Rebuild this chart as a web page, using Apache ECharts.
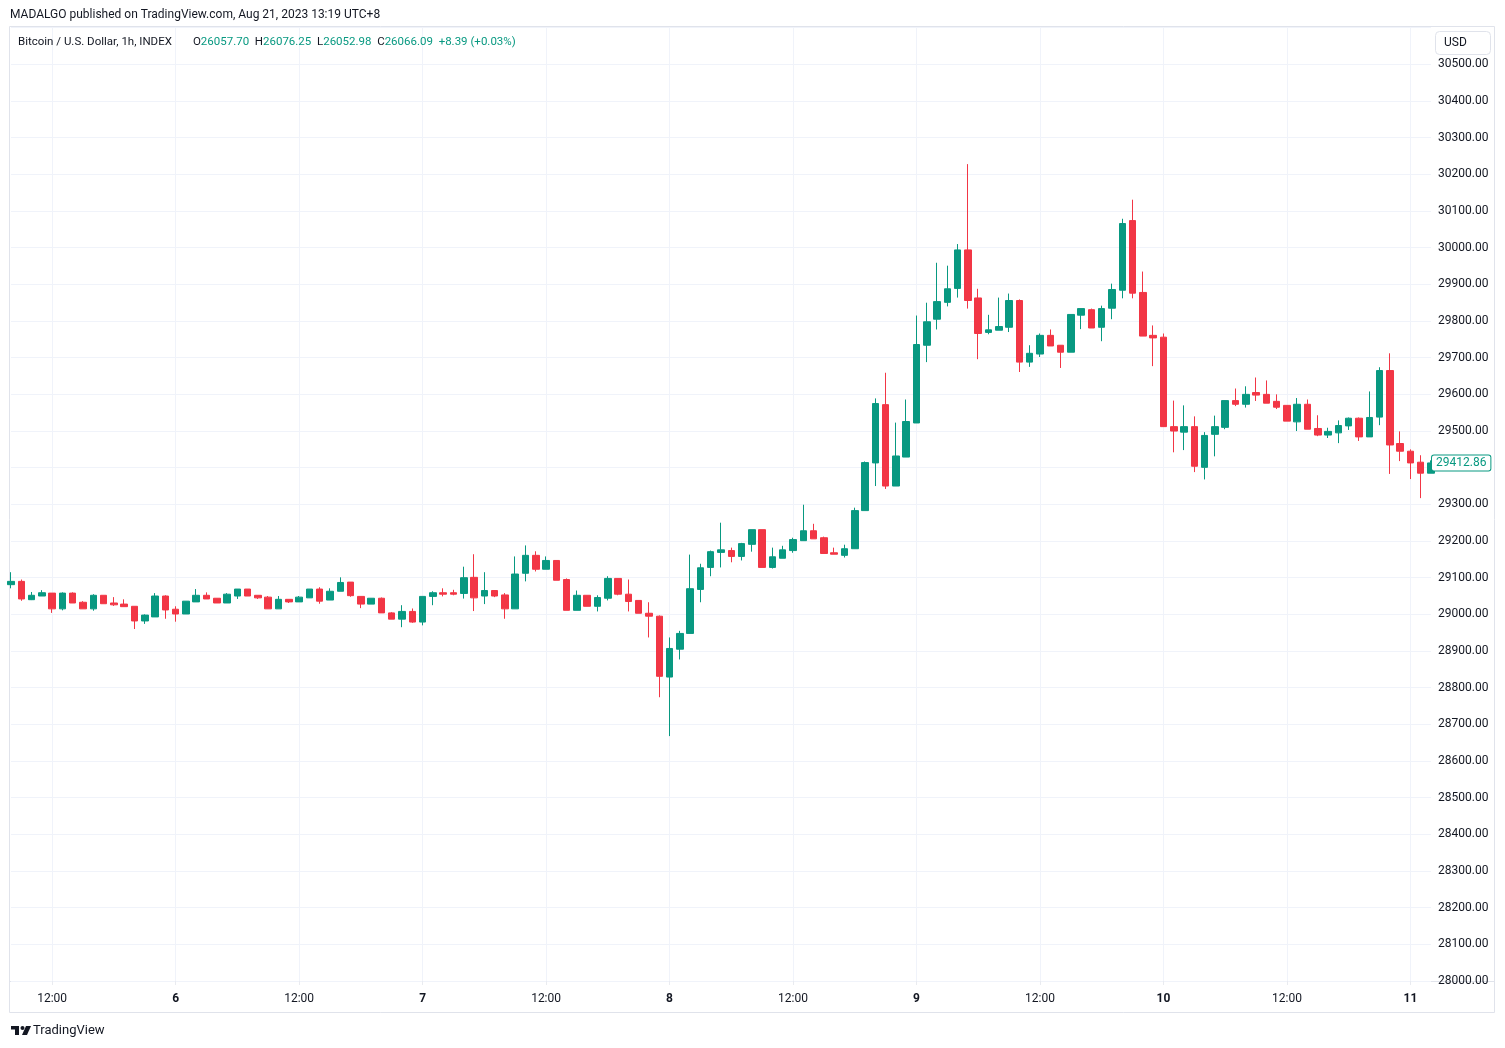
<!DOCTYPE html>
<html>
<head>
<meta charset="utf-8">
<title>Bitcoin / U.S. Dollar, 1h</title>
<script src="https://cdn.jsdelivr.net/npm/echarts@6/dist/echarts.min.js"></script>
<style>
  html, body { margin: 0; padding: 0; background: #ffffff; }
  #chart { width: 1505px; height: 1048px; }
</style>
</head>
<body>
<div id="chart"></div>
<script>
// hourly candles, each one [open, close, low, high]
// Aug 5, 08:00 - 23:00
const aug05 = [
  [29081, 29090, 29071, 29115], [29090, 29042, 29037, 29095], [29040, 29052, 29039, 29061], [29050, 29059, 29050, 29066],
  [29058, 29015, 29004, 29058], [29015, 29058, 29011, 29060], [29058, 29031, 29031, 29060], [29033, 29015, 29015, 29036],
  [29015, 29052, 29010, 29055], [29052, 29029, 29029, 29052], [29031, 29026, 29023, 29047], [29028, 29021, 29021, 29041],
  [29022, 28982, 28960, 29022], [28982, 28998, 28974, 29000], [28993, 29050, 28993, 29058], [29050, 29012, 28988, 29052]
];
const aug06 = [
  [29014, 29001, 28980, 29022], [29001, 29036, 29001, 29036], [29034, 29052, 29034, 29069], [29052, 29042, 29042, 29060],
  [29044, 29031, 29031, 29044], [29031, 29055, 29031, 29058], [29050, 29069, 29042, 29069], [29069, 29050, 29050, 29069],
  [29052, 29045, 29042, 29052], [29047, 29015, 29015, 29050], [29015, 29041, 29015, 29050], [29041, 29034, 29031, 29041],
  [29034, 29047, 29034, 29050], [29045, 29069, 29045, 29069], [29069, 29036, 29029, 29074], [29039, 29063, 29039, 29071],
  [29063, 29087, 29063, 29101], [29088, 29051, 29048, 29088], [29049, 29028, 29017, 29049], [29028, 29044, 29028, 29044],
  [29044, 29004, 29004, 29046], [29004, 28987, 28987, 29006], [28987, 29008, 28965, 29025], [29008, 28979, 28977, 29016]
];
const aug07 = [
  [28979, 29049, 28970, 29049], [29049, 29059, 29025, 29063], [29059, 29055, 29049, 29071], [29059, 29055, 29052, 29067],
  [29057, 29100, 29043, 29130], [29101, 29045, 29009, 29164], [29050, 29065, 29028, 29115], [29065, 29050, 29047, 29065],
  [29053, 29015, 28988, 29058], [29015, 29110, 29015, 29158], [29112, 29161, 29090, 29188], [29161, 29123, 29117, 29172],
  [29123, 29147, 29123, 29158], [29147, 29093, 29093, 29147], [29095, 29011, 29011, 29098], [29011, 29052, 29011, 29065],
  [29052, 29022, 29022, 29052], [29022, 29046, 29008, 29052], [29044, 29098, 29038, 29104], [29098, 29055, 29052, 29098],
  [29055, 29035, 29008, 29095], [29038, 29003, 29003, 29038], [29003, 28995, 28937, 29033], [28995, 28831, 28774, 28997]
];
const aug08 = [
  [28829, 28907, 28668, 28937], [28905, 28948, 28877, 28955], [28948, 29070, 28948, 29163], [29068, 29127, 29033, 29138],
  [29128, 29171, 29104, 29174], [29169, 29176, 29128, 29250], [29174, 29158, 29142, 29182], [29158, 29193, 29147, 29195],
  [29191, 29231, 29171, 29231], [29231, 29128, 29128, 29231], [29128, 29157, 29125, 29182], [29153, 29176, 29153, 29187],
  [29174, 29204, 29168, 29209], [29201, 29228, 29201, 29299], [29228, 29206, 29206, 29247], [29209, 29166, 29166, 29212],
  [29168, 29164, 29164, 29182], [29161, 29179, 29155, 29190], [29179, 29283, 29179, 29291], [29283, 29414, 29283, 29417],
  [29413, 29575, 29350, 29589], [29572, 29350, 29342, 29659], [29350, 29432, 29350, 29523], [29429, 29526, 29429, 29586]
];
const aug09 = [
  [29522, 29736, 29522, 29815], [29734, 29798, 29688, 29850], [29805, 29853, 29777, 29959], [29851, 29888, 29840, 29951],
  [29889, 29994, 29864, 30010], [29994, 29856, 29834, 30228], [29863, 29766, 29696, 29888], [29769, 29776, 29764, 29817],
  [29775, 29785, 29775, 29864], [29783, 29856, 29770, 29875], [29856, 29688, 29661, 29859], [29688, 29712, 29675, 29734],
  [29710, 29761, 29702, 29766], [29761, 29732, 29732, 29777], [29734, 29715, 29672, 29734], [29715, 29818, 29715, 29818],
  [29816, 29834, 29778, 29834], [29831, 29781, 29781, 29834], [29783, 29834, 29745, 29842], [29835, 29886, 29805, 29902],
  [29884, 30066, 29862, 30079], [30074, 29876, 29862, 30131], [29878, 29759, 29759, 29935], [29761, 29754, 29677, 29788]
];
const aug10 = [
  [29756, 29512, 29512, 29766], [29512, 29500, 29442, 29583], [29497, 29512, 29448, 29570], [29512, 29404, 29388, 29540],
  [29401, 29488, 29368, 29497], [29491, 29512, 29431, 29542], [29510, 29583, 29505, 29583], [29583, 29573, 29568, 29616],
  [29573, 29600, 29564, 29622], [29605, 29598, 29582, 29646], [29600, 29576, 29576, 29638], [29581, 29565, 29560, 29600],
  [29570, 29527, 29527, 29570], [29525, 29573, 29500, 29590], [29573, 29505, 29505, 29586], [29507, 29489, 29486, 29543],
  [29489, 29499, 29481, 29509], [29495, 29515, 29467, 29529], [29514, 29535, 29503, 29537], [29535, 29484, 29473, 29537],
  [29484, 29537, 29484, 29608], [29538, 29665, 29516, 29674], [29665, 29462, 29383, 29712], [29466, 29445, 29418, 29499]
];
// Aug 11, 00:00 - 02:00
const aug11 = [
  [29445, 29413, 29369, 29450], [29415, 29385, 29317, 29434], [29385, 29413, 29385, 29420]
];

const lastPrice = 29412.86;
const headerValues = { o: '26057.70', h: '26076.25', l: '26052.98', c: '26066.09', chg: '+8.39 (+0.03%)' };

const yMin = 28000;
const yMax = 30602;
const yStep = 100;
const yTopLabel = 30500;

const candles = [].concat(aug05, aug06, aug07, aug08, aug09, aug10, aug11);

// one category per hour, starting Aug 5 08:00
const firstDay = 5, firstHour = 8;
const slots = candles.map((c, i) => {
  const h = firstHour + i;
  return { day: firstDay + Math.floor(h / 24), hour: h % 24 };
});
const categories = slots.map(s => '2023-08-' + String(s.day).padStart(2, '0') + ' ' + String(s.hour).padStart(2, '0') + ':00');
const isMark = (i) => slots[i].hour % 12 === 0;

const UP = '#089981';
const DOWN = '#F23645';
const TEXT = '#131722';
const FONT = 'Roboto, "Noto Sans", sans-serif';
const FS = 12;
const LEG = 11.5;

const chart = echarts.init(document.getElementById('chart'));

const option = {
  animation: false,
  backgroundColor: '#ffffff',
  textStyle: { fontFamily: FONT },
  title: [
    {
      text: 'MADALGO published on TradingView.com, Aug 21, 2023 13:19 UTC+8',
      left: 10,
      top: 9,
      padding: 0,
      textStyle: { fontSize: FS, fontWeight: 'normal', color: TEXT, fontFamily: FONT }
    },
    {
      text: '{n|Bitcoin / U.S. Dollar, 1h, INDEX}{g|}{n|O}{v|' + headerValues.o + '}  {n|H}{v|' + headerValues.h +
        '}  {n|L}{v|' + headerValues.l + '}  {n|C}{v|' + headerValues.c + '}  {v|' + headerValues.chg + '}',
      left: 18,
      top: 36,
      padding: 0,
      textStyle: {
        fontSize: LEG,
        fontWeight: 'normal',
        fontFamily: FONT,
        rich: {
          n: { color: TEXT, fontSize: LEG, fontWeight: 'normal', fontFamily: FONT },
          v: { color: UP, fontSize: LEG, fontWeight: 'normal', fontFamily: FONT },
          g: { width: 21 }
        }
      }
    }
  ],
  grid: {
    left: 11,
    right: 74,
    top: 27,
    bottom: 67,
    containLabel: false
  },
  xAxis: {
    type: 'category',
    data: categories,
    boundaryGap: false,
    axisLine: { show: false },
    axisTick: {
      show: true,
      interval: (i) => isMark(i),
      length: 4,
      lineStyle: { color: '#e9ebf0' }
    },
    axisLabel: {
      interval: (i) => isMark(i),
      margin: 12,
      fontSize: FS,
      color: TEXT,
      formatter: (value, i) => {
        const s = slots[i];
        return s.hour === 0 ? '{d|' + s.day + '}' : '12:00';
      },
      rich: {
        d: { fontWeight: 'bold', fontSize: FS, color: TEXT }
      }
    },
    splitLine: {
      show: true,
      interval: (i) => isMark(i),
      lineStyle: { color: '#f0f3fa', width: 1 }
    }
  },
  yAxis: {
    type: 'value',
    position: 'right',
    min: yMin,
    max: yMax,
    interval: yStep,
    axisLine: { show: false },
    axisTick: { show: false },
    axisLabel: {
      margin: 7,
      fontSize: FS,
      color: TEXT,
      formatter: (v) => (v > yTopLabel ? '' : v.toFixed(2))
    },
    splitLine: { lineStyle: { color: '#f0f3fa', width: 1 } }
  },
  series: [
    {
      type: 'candlestick',
      data: candles,
      barWidth: 7,
      itemStyle: {
        color: UP,
        color0: DOWN,
        borderColor: UP,
        borderColor0: DOWN,
        borderWidth: 1
      },
      markLine: {
        silent: true,
        symbol: 'none',
        animation: false,
        lineStyle: { color: 'rgba(0,0,0,0)', width: 1, type: 'solid' },
        label: {
          show: true,
          position: 'end',
          distance: 1,
          formatter: lastPrice.toFixed(2),
          color: UP,
          fontSize: FS,
          fontFamily: FONT,
          backgroundColor: '#ffffff',
          borderColor: UP,
          borderWidth: 1,
          borderRadius: 2,
          padding: [2, 4, 1, 4]
        },
        data: [{ yAxis: lastPrice }]
      }
    }
  ],
  graphic: [
    // outer frame
    {
      type: 'rect',
      silent: true,
      shape: { x: 9.5, y: 26.5, width: 1485, height: 986 },
      style: { fill: 'none', stroke: '#e0e3eb', lineWidth: 1 }
    },
    // time scale separator
    {
      type: 'line',
      silent: true,
      shape: { x1: 10, y1: 981.5, x2: 1494, y2: 981.5 },
      style: { stroke: '#e0e3eb', lineWidth: 1 }
    },
    // currency button
    {
      type: 'rect',
      silent: true,
      shape: { x: 1435.5, y: 31.5, width: 55, height: 23, r: 4 },
      style: { fill: '#ffffff', stroke: '#e0e3eb', lineWidth: 1 }
    },
    {
      type: 'text',
      silent: true,
      x: 1444,
      y: 43,
      style: { text: 'USD', fontSize: FS, fontFamily: FONT, fill: TEXT, verticalAlign: 'middle' }
    },
    // TradingView logo + name
    {
      type: 'group',
      silent: true,
      x: 11,
      y: 1026,
      children: [
        { type: 'rect', shape: { x: 0, y: 0, width: 8, height: 3.5 }, style: { fill: TEXT } },
        { type: 'rect', shape: { x: 4, y: 0, width: 4, height: 9 }, style: { fill: TEXT } },
        { type: 'circle', shape: { cx: 11.5, cy: 2, r: 2 }, style: { fill: TEXT } },
        { type: 'polygon', shape: { points: [[15, 0], [20, 0], [16, 9], [11, 9]] }, style: { fill: TEXT } }
      ]
    },
    {
      type: 'text',
      silent: true,
      x: 33,
      y: 1031,
      style: { text: 'TradingView', fontSize: 13, fontFamily: FONT, fill: TEXT, verticalAlign: 'middle' }
    }
  ]
};

chart.setOption(option);
</script>
</body>
</html>
